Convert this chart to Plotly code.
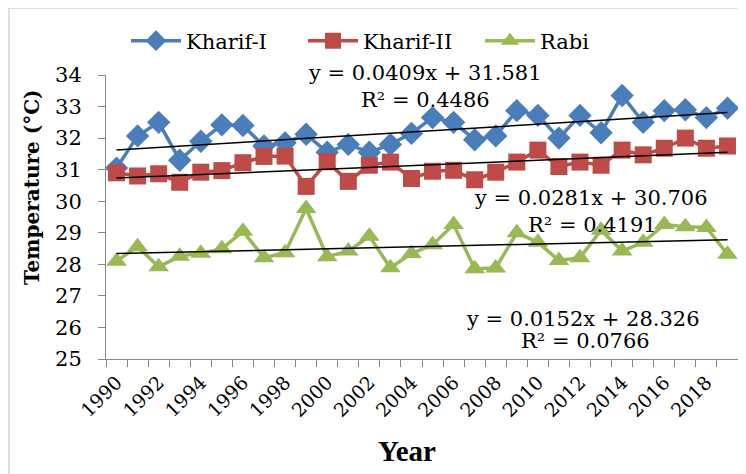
import plotly.graph_objects as go

years = list(range(1990, 2020))
kharif1 = [31.05, 32.07, 32.50, 31.30, 31.90, 32.42, 32.40, 31.75, 31.85, 32.12,
           31.55, 31.80, 31.55, 31.80, 32.15, 32.65, 32.50, 31.95, 32.07, 32.87,
           32.72, 32.00, 32.72, 32.17, 33.35, 32.50, 32.87, 32.90, 32.65, 32.95]
kharif2 = [30.90, 30.80, 30.87, 30.60, 30.92, 30.97, 31.22, 31.42, 31.43, 30.47,
           31.25, 30.63, 31.14, 31.24, 30.72, 30.95, 30.98, 30.68, 30.92, 31.24,
           31.62, 31.10, 31.24, 31.14, 31.62, 31.47, 31.68, 32.00, 31.68, 31.75]
rabi = [28.10, 28.56, 27.92, 28.26, 28.35, 28.49, 29.05, 28.21, 28.37, 29.77,
        28.24, 28.42, 28.89, 27.89, 28.34, 28.62, 29.26, 27.86, 27.88, 29.00,
        28.70, 28.12, 28.21, 29.08, 28.42, 28.70, 29.26, 29.19, 29.17, 28.32]

names = ["Kharif-I", "Kharif-II", "Rabi"]
colors = ["#4A7EBB", "#BE4B48", "#98B954"]
symbols = ["diamond", "square", "triangle-up"]
sizes = [18, 17, 18]
slopes = [0.0409, 0.0281, 0.0152]
intercepts = [31.581, 30.706, 28.326]
r2 = ["0.4486", "0.4191", "0.0766"]
tick_years = list(range(1990, 2019, 2))
y_ticks = list(range(25, 35))

series = [kharif1, kharif2, rabi]

fig = go.Figure()
for s, n, c, sym, sz in zip(series, names, colors, symbols, sizes):
    fig.add_trace(go.Scatter(x=years, y=s, name=n, mode="lines+markers",
                             line=dict(color=c, width=3.5),
                             marker=dict(symbol=sym, size=sz, color=c)))

for a, b in zip(slopes, intercepts):
    xs = [years[0], years[-1]]
    ys = [a * (x - years[0] + 1) + b for x in xs]
    fig.add_trace(go.Scatter(x=xs, y=ys, mode="lines", showlegend=False,
                             line=dict(color="black", width=1.5), hoverinfo="skip"))

# page has an 8px body margin: figure is placed at (8, 8) in the window
OFF = 8
W, H = 746 - OFF, 474 - OFF
PL, PR, PT, PB = 106, 738, 75, 359          # plot area in window pixels
L, T = PL - OFF, PT - OFF
R = W - (PR - OFF)
B = H - (PB - OFF)
pw, ph = PR - PL, PB - PT

def px(x):
    return (x - PL) / pw

def py(y):
    return (PB - y) / ph

font_main = "DejaVu Serif"
eq_pos = [((425, 73), (425, 100)), ((591, 198), (592, 225)), ((583, 319), (585, 341))]
annotations = []
for a, b, r, (p1, p2) in zip(slopes, intercepts, r2, eq_pos):
    annotations.append(dict(x=px(p1[0]), y=py(p1[1]), xref="paper", yref="paper",
                            text=f"y = {a}x + {b}", showarrow=False,
                            font=dict(family=font_main, size=21, color="black"),
                            xanchor="center", yanchor="middle"))
    annotations.append(dict(x=px(p2[0]), y=py(p2[1]), xref="paper", yref="paper",
                            text=f"R² = {r}", showarrow=False,
                            font=dict(family=font_main, size=21, color="black"),
                            xanchor="center", yanchor="middle"))

annotations.append(dict(x=px(32), y=py(187), xref="paper", yref="paper",
                        text="<b>Temperature (°C)</b>", textangle=-90, showarrow=False,
                        font=dict(family=font_main, size=20, color="black"),
                        xanchor="center", yanchor="middle"))
annotations.append(dict(x=px(407), y=py(451), xref="paper", yref="paper",
                        text="<b>Year</b>", showarrow=False,
                        font=dict(family="Liberation Serif", size=29, color="black"),
                        xanchor="center", yanchor="middle"))

fig.update_layout(
    width=W, height=H,
    margin=dict(l=L, r=R, t=T, b=B, autoexpand=False),
    paper_bgcolor="white", plot_bgcolor="white",
    showlegend=True,
    legend=dict(orientation="h", xref="container", yref="container",
                x=(126 - OFF) / W, y=1 - (41 - OFF) / H, xanchor="left", yanchor="middle",
                font=dict(family=font_main, size=21, color="black"),
                itemwidth=50, entrywidth=112, entrywidthmode="pixels",
                bgcolor="rgba(0,0,0,0)"),
    xaxis=dict(range=[1989.5, 2019.5], tickmode="array", tickvals=tick_years,
               ticktext=[str(y) for y in tick_years], tickangle=-45, ticks="",
               showline=True, linecolor="#868686", linewidth=1, showgrid=False,
               zeroline=False, automargin=False, ticklabelstandoff=4,
               tickfont=dict(family=font_main, size=19, color="black"),
               minor=dict(tickmode="linear", tick0=1989.5, dtick=1, ticks="outside",
                          ticklen=7, tickcolor="#868686", showgrid=False)),
    yaxis=dict(range=[25, 34], tickmode="array", tickvals=y_ticks, ticks="outside",
               ticklen=7, tickcolor="#868686", showline=True, linecolor="#868686",
               linewidth=1, showgrid=False, zeroline=False, ticklabelstandoff=12,
               automargin=False,
               tickfont=dict(family=font_main, size=21, color="black")),
    annotations=annotations,
    shapes=[dict(type="rect", xref="paper", yref="paper",
                 x0=px(9), x1=px(800), y0=py(8), y1=py(600),
                 line=dict(color="#BFBFBF", width=1), fillcolor="rgba(0,0,0,0)",
                 layer="below")],
)

fig.write_html("out.html")
